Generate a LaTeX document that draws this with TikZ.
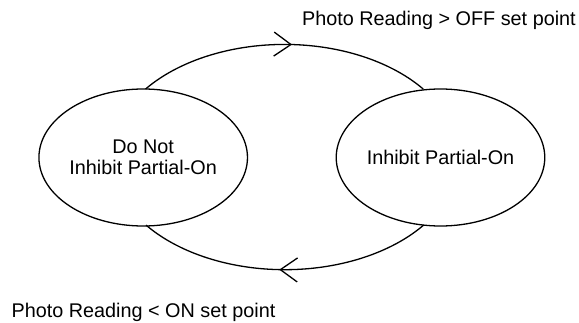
\documentclass[tikz,border=0pt]{standalone}
\usepackage{fontspec}
\setmainfont{Liberation Sans}
\usetikzlibrary{shapes.geometric,decorations.markings}
\begin{document}
\begin{tikzpicture}[x=1pt,y=1pt,
  state/.style={ellipse, draw, line width=1.3pt, minimum width=198pt, minimum height=137pt,
    inner sep=0pt, outer sep=0pt, align=center, fill=white,
    font=\fontsize{19.8}{21.5}\selectfont},
  lbl/.style={inner sep=0pt, font=\fontsize{19.8}{21.5}\selectfont},
  conn/.style={line width=1.3pt},
  chevtip/.style={postaction={decorate}, decoration={markings,
    mark=at position #1 with {\draw[line width=1.3pt, line join=miter] (-17pt,12pt) -- (0pt,0pt) -- (-17pt,-12pt);}}}
]
\useasboundingbox (0,0) rectangle (579,322);
\node[state] (L) at (143.2,164.5) {Do Not\\Inhibit Partial-On};
\node[state] (R) at (440.5,164.5) {Inhibit Partial-On};
\draw[conn, chevtip=0.522] (L.88) arc[start angle=143, end angle=37, x radius=173.8, y radius=112];
\draw[conn, chevtip=0.515] (R.-104) arc[start angle=-37, end angle=-143, x radius=173.8, y radius=112];
\node[lbl, anchor=base west] (top) at (302,296.5) {Photo Reading > OFF set point};
\node[lbl, anchor=base west] (bot) at (11.5,5) {Photo Reading < ON set point};
\end{tikzpicture}
\end{document}
